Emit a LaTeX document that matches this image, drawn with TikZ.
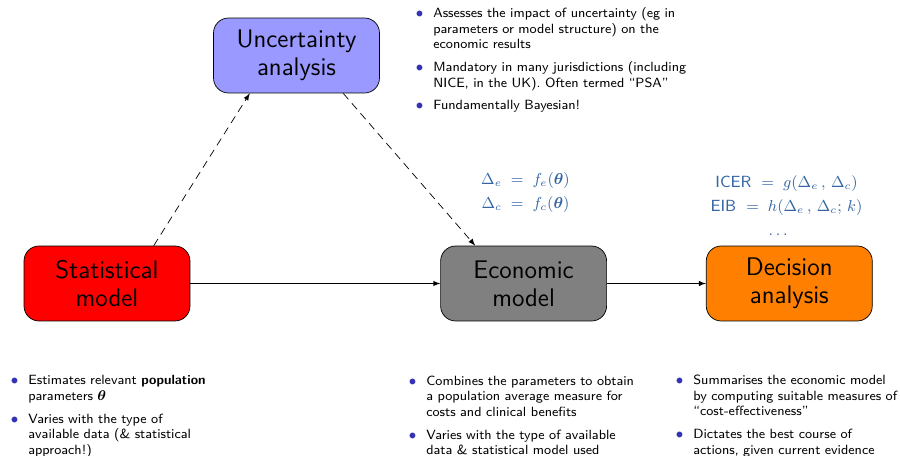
\documentclass[tikz,border=0pt]{standalone}
\usepackage{amsmath}
\usepackage{bm}
\usepackage{enumitem}
\usepackage{tikz}
\usetikzlibrary{arrows,positioning,calc}
\definecolor{statred}{RGB}{255,0,0}
\definecolor{uncblue}{RGB}{153,153,255}
\definecolor{econgrey}{RGB}{128,128,128}
\definecolor{decorange}{RGB}{255,128,0}
\definecolor{ballblue}{RGB}{51,51,179}
\definecolor{formblue}{RGB}{52,101,164}
\renewcommand{\familydefault}{\sfdefault}
\newlist{notes}{itemize}{1}
\setlist[notes]{label={\textcolor{ballblue}{\fontsize{8.5}{8.5}\selectfont$\bullet$}},
	labelindent=0pt,labelwidth=0.22cm,labelsep=0.2cm,leftmargin=0.42cm,
	topsep=0pt,partopsep=0pt,parsep=0pt,itemsep=4.2pt}

\begin{document}
\begin{tikzpicture}[x=0.02cm,y=-0.02cm,% one unit is one pixel of the slide
			box/.style={
				rectangle,rounded corners=0.3cm,draw=black,
				align=center,  		% so that "\\" breaks the line
				minimum width=3.32cm,minimum height=1.5cm,inner sep=0pt,
				font=\fontsize{14.5}{16}\selectfont
			},
			notebox/.style={anchor=north west,inner sep=0pt,text width=6cm,font=\fontsize{7.6}{8.8}\selectfont},
			formula/.style={text=formblue,align=center,inner sep=0pt,font=\fontsize{9.2}{13.7}\selectfont},
			uncline/.style={dash pattern=on 4.5pt off 3pt},
			every edge/.style={draw},
			>=latex
		]
		\useasboundingbox (0,0) rectangle (900,456);
		\node[box,fill=statred](stat) at (107,283.5){Statistical\\model};
		\node[box,fill=econgrey](econ)[right=5cm of stat]{Economic\\model};
		\node[box,fill=decorange](dec)[right=1.98cm of econ]{Decision\\analysis};
		\node[box,fill=uncblue](unc) at (296.5,55.5){Uncertainty\\analysis};
		% formulas above the models
		\node[formula](deltas) at (525.5,193){$\Delta_e\;=\;f_e(\bm\theta)$\\$\Delta_c\;=\;f_c(\bm\theta)$};
		\node[formula](summaries) at (786.5,205.5){ICER $\;=\;g(\Delta_e\,,\,\Delta_c)$\\EIB $\;=\;h(\Delta_e\,,\,\Delta_c;\,k)$\\\hspace*{-0.28cm}$\dots$};
		% bullet lists
		\node[notebox](uncnotes) at (412,2){\begin{notes}
			\item Assesses the impact of uncertainty (eg in\\parameters or model structure) on the\\economic results
			\item Mandatory in many jurisdictions (including\\NICE, in the UK). Often termed ``PSA''
			\item Fundamentally Bayesian!
		\end{notes}};
		\node[notebox](statnotes) at (7,369){\begin{notes}
			\item Estimates relevant \textbf{population}\\parameters $\bm\theta$
			\item Varies with the type of\\available data (\& statistical\\approach!)
		\end{notes}};
		\node[notebox](econnotes) at (405,369.5){\begin{notes}
			\item Combines the parameters to obtain\\a population average measure for\\costs and clinical benefits
			\item Varies with the type of available\\data \& statistical model used
		\end{notes}};
		\node[notebox](decnotes) at (672,369){\begin{notes}
			\item Summarises the economic model\\by computing suitable measures of\\``cost-effectiveness''
			\item Dictates the best course of\\actions, given current evidence
		\end{notes}};
		\path[->]
		(stat)edge (econ)
		(econ)edge (dec)
		(stat.39)edge [uncline] (unc.219)
		(unc.321)edge [uncline] (econ.142)
		;
	\end{tikzpicture}
\end{document}
